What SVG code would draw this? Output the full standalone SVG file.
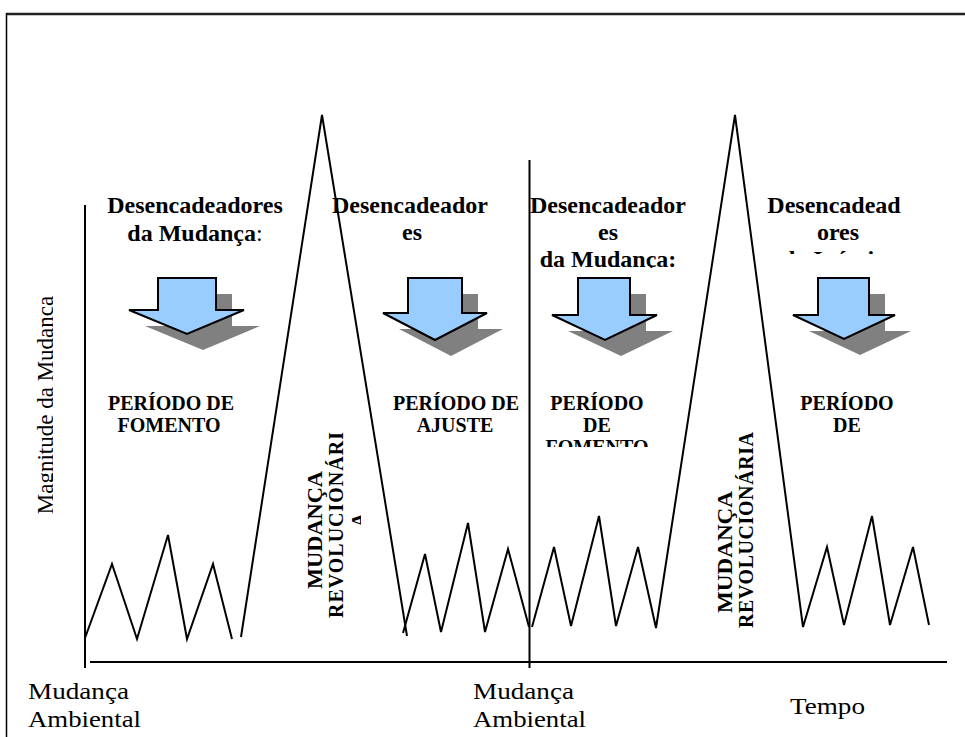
<svg xmlns="http://www.w3.org/2000/svg" width="965" height="737" viewBox="0 0 965 737">
<style>
.ln{stroke:#000;stroke-width:2;fill:none;stroke-linejoin:miter}
.ax{stroke:#000;stroke-width:2;fill:none}
.b{font-family:"Liberation Serif","Times New Roman",serif;font-weight:bold;fill:#000}
.h{font-size:24px;text-anchor:middle}
.p{font-size:20px;text-anchor:middle}
.v{font-size:20px;text-anchor:middle}
.r{font-family:"Liberation Serif","Times New Roman",serif;font-weight:normal;fill:#000}
.bl{font-size:24px}
.arr{fill:#99CCFF;stroke:#000;stroke-width:2;stroke-linejoin:miter}
.sh{fill:#808080;stroke:none}
</style>
<defs>
<clipPath id="c3"><rect x="520" y="180" width="200" height="88"/></clipPath>
<clipPath id="c4"><rect x="750" y="180" width="200" height="74"/></clipPath>
<clipPath id="p3"><rect x="520" y="380" width="200" height="67"/></clipPath>
<clipPath id="va"><rect x="290" y="400" width="71" height="240"/></clipPath>
<clipPath id="ya"><rect x="20" y="280" width="33" height="260"/></clipPath>
</defs>

<g id="frame">
<line x1="6" y1="14" x2="965" y2="14" stroke="#222" stroke-width="2.5"/>
<line x1="6.5" y1="13" x2="6.5" y2="737" stroke="#000" stroke-width="1.5"/>
</g>

<g id="connectors">
<line class="ax" x1="85" y1="205" x2="85" y2="668"/>
<line class="ax" x1="529.5" y1="160" x2="529.5" y2="668"/>
<line class="ax" x1="90" y1="662" x2="947" y2="662"/>
<polyline class="ln" points="85,638 112,564 137,639 168,535 187,639 213,564 232,639"/>
<polyline class="ln" points="241,637 322,115 407,636"/>
<polyline class="ln" points="403,633 425,554 441,632 468,523 485,632 508,549 529,627"/>
<polyline class="ln" points="532,627 554,547 571,626 599,516 616,626 638,547 656,628 735,115 803,627 827,547 844,625 872,516 890,625 913,547 929,625"/>
</g>

<g id="yaxis-label">
<g clip-path="url(#ya)">
<text class="r" font-size="23" text-anchor="middle" transform="translate(53,405) rotate(-90)">Magnitude da Mudança</text>
</g>
</g>

<g id="block1">
<text class="b h" x="195" y="213">Desencadeadores</text>
<text class="b h" x="195" y="241">da Mudança<tspan font-weight="normal">:</tspan></text>
<path class="sh" transform="translate(16,16)" d="M158,278 H216 V310 H244 L187,334 L129,310 H158 Z"/>
<path class="arr" d="M158,278 H216 V310 H244 L187,334 L129,310 H158 Z"/>
<text class="b p" x="171" y="410">PERÍODO DE</text>
<text class="b p" x="169" y="432">FOMENTO</text>
</g>

<g id="rev1">
<text class="b v" textLength="118" lengthAdjust="spacingAndGlyphs" transform="translate(322,530) rotate(-90)">MUDANÇA</text>
<text class="b v" textLength="186" transform="translate(343,525) rotate(-90)">REVOLUCIONÁRI</text>
<g clip-path="url(#va)"><text class="b v" transform="translate(366,520) rotate(-90)">A</text></g>
</g>

<g id="block2">
<text class="b h" x="410" y="213">Desencadeador</text>
<text class="b h" x="412" y="240">es</text>
<path class="sh" transform="translate(16,16)" d="M408,278 H462 V313 H487 L435,340 L383,313 H408 Z"/>
<path class="arr" d="M408,278 H462 V313 H487 L435,340 L383,313 H408 Z"/>
<text class="b p" x="456" y="410">PERÍODO DE</text>
<text class="b p" x="455" y="432">AJUSTE</text>
</g>

<g id="block3">
<text class="b h" x="608" y="213">Desencadeador</text>
<text class="b h" x="608" y="240">es</text>
<g clip-path="url(#c3)"><text class="b h" x="608" y="267">da Mudança:</text></g>
<path class="sh" transform="translate(16,16)" d="M578,278 H630 V315 H657 L605,340 L552,315 H578 Z"/>
<path class="arr" d="M578,278 H630 V315 H657 L605,340 L552,315 H578 Z"/>
<text class="b p" x="597" y="410">PERÍODO</text>
<text class="b p" x="597" y="432">DE</text>
<g clip-path="url(#p3)"><text class="b p" x="597" y="454">FOMENTO</text></g>
</g>

<g id="rev2">
<text class="b v" textLength="122" lengthAdjust="spacingAndGlyphs" transform="translate(732,552) rotate(-90)">MUDANÇA</text>
<text class="b v" textLength="196" transform="translate(753,530) rotate(-90)">REVOLUCIONÁRIA</text>
</g>

<g id="block4">
<text class="b h" x="834" y="213">Desencadead</text>
<text class="b h" x="838" y="240">ores</text>
<g clip-path="url(#c4)"><text class="b h" x="834" y="267">da Inércia</text></g>
<path class="sh" transform="translate(16,16)" d="M818,278 H869 V315 H895 L844,339 L793,315 H818 Z"/>
<path class="arr" d="M818,278 H869 V315 H895 L844,339 L793,315 H818 Z"/>
<text class="b p" x="847" y="410">PERÍODO</text>
<text class="b p" x="847" y="432">DE</text>
</g>

<g id="bottom-labels">
<text class="r bl" x="28" y="699" textLength="101" lengthAdjust="spacingAndGlyphs">Mudança</text>
<text class="r bl" x="28" y="727" textLength="113" lengthAdjust="spacingAndGlyphs">Ambiental</text>
<text class="r bl" x="473" y="699" textLength="101" lengthAdjust="spacingAndGlyphs">Mudança</text>
<text class="r bl" x="473" y="727" textLength="113" lengthAdjust="spacingAndGlyphs">Ambiental</text>
<text class="r bl" x="790" y="714" textLength="75" lengthAdjust="spacingAndGlyphs">Tempo</text>
</g>
</svg>
